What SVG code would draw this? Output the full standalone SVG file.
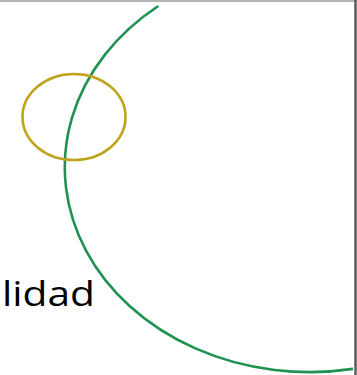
<svg xmlns="http://www.w3.org/2000/svg" width="357" height="375" viewBox="0 0 357 375">
<style>
.frame-top{stroke:#b4b4b4;stroke-width:2;fill:none}
.frame-right{stroke:#5a5a5a;stroke-width:2.5;fill:none}
.green{stroke:#1f9150;stroke-width:2.6;fill:none}
.gold{stroke:#bfa31c;stroke-width:2.6;fill:none}
.label{font-family:"Open Sans","Liberation Sans",sans-serif;font-size:34px;fill:#000}
</style>
<rect width="357" height="375" fill="#ffffff"/>
<g id="frame">
<line class="frame-top" x1="0" y1="1" x2="357" y2="1"/>
<line class="frame-right" x1="355.5" y1="0" x2="355.5" y2="375"/>
</g>
<g id="big-arc">
<path class="green" d="M158.3 6 A245 205 0 0 0 353 368.9"/>
</g>
<g id="small-ellipse">
<ellipse class="gold" cx="74" cy="117" rx="51.5" ry="43"/>
</g>
<g id="label">
<text class="label" x="2" y="306" textLength="93" lengthAdjust="spacingAndGlyphs">lidad</text>
</g>
</svg>
